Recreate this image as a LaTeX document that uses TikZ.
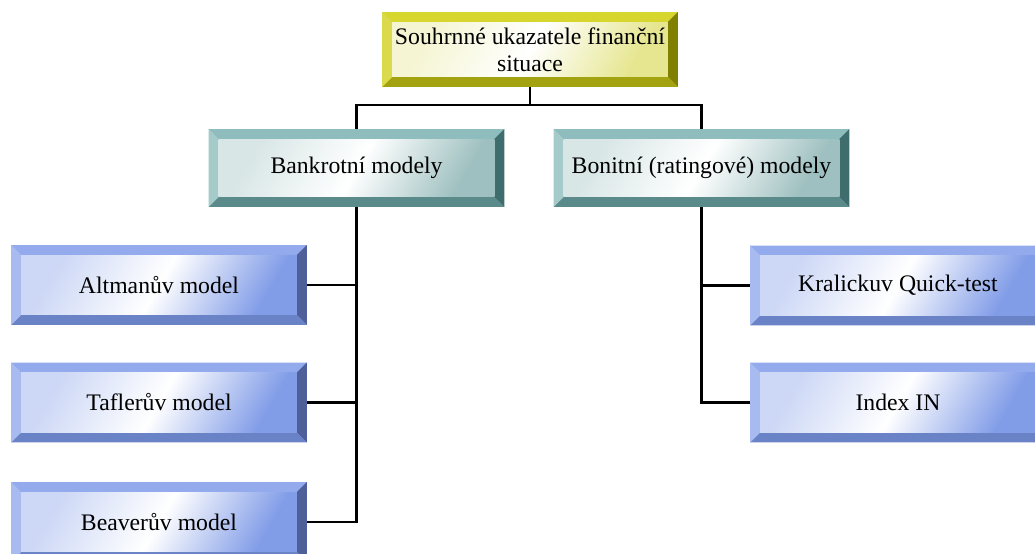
\documentclass[tikz,border=0pt]{standalone}
\usepackage{fontspec}
\setmainfont{Liberation Serif}
\usetikzlibrary{calc}

\definecolor{blueTop}{HTML}{93AAEC}
\definecolor{blueLeft}{HTML}{A8BBF0}
\definecolor{blueRight}{HTML}{4E5F99}
\definecolor{blueBot}{HTML}{6A83C6}
\definecolor{blueIn}{HTML}{829DE8}
\definecolor{tealTop}{HTML}{8FBCBC}
\definecolor{tealLeft}{HTML}{A5CACA}
\definecolor{tealRight}{HTML}{3F6C6C}
\definecolor{tealBot}{HTML}{5B8A8A}
\definecolor{tealIn}{HTML}{9FC0C0}
\definecolor{yelTop}{HTML}{D6D62E}
\definecolor{yelLeft}{HTML}{DADA4C}
\definecolor{yelRight}{HTML}{808000}
\definecolor{yelBot}{HTML}{A3A312}
\definecolor{yelIn}{HTML}{E6E690}

\newcommand{\bw}{0.2cm}

\tikzset{
  bevel/.style n args={5}{fill=#1, inner sep=0pt, align=center, minimum width=5.92cm,
    font=\fontsize{13.5}{15.5}\selectfont,
    path picture={
      \path (path picture bounding box.north west) coordinate (pnw)
            (path picture bounding box.south east) coordinate (pse)
            (pnw -| pse) coordinate (pne)
            (pnw |- pse) coordinate (psw);
      \fill[#1] (pnw) -- (pne) -- ([shift={(-\bw,-\bw)}]pne) -- ([shift={(\bw,-\bw)}]pnw) -- cycle;
      \fill[#3] (pne) -- (pse) -- ([shift={(-\bw,\bw)}]pse) -- ([shift={(-\bw,-\bw)}]pne) -- cycle;
      \fill[#4] (pse) -- (psw) -- ([shift={(\bw,\bw)}]psw) -- ([shift={(-\bw,\bw)}]pse) -- cycle;
      \fill[#2] (psw) -- (pnw) -- ([shift={(\bw,-\bw)}]pnw) -- ([shift={(\bw,\bw)}]psw) -- cycle;
      \shade[left color=#5!40, right color=#5, middle color=white, shading angle=60]
        ([shift={(\bw,-\bw)}]pnw) rectangle ([shift={(-\bw,\bw)}]pse);
    }},
  bluebox/.style={bevel={blueTop}{blueLeft}{blueRight}{blueBot}{blueIn}, minimum height=1.6cm},
  tealbox/.style={bevel={tealTop}{tealLeft}{tealRight}{tealBot}{tealIn}, minimum height=1.56cm},
  yelbox/.style={bevel={yelTop}{yelLeft}{yelRight}{yelBot}{yelIn}, minimum height=1.5cm},
  conn/.style={line width=1.3pt}
}

\begin{document}
\begin{tikzpicture}[x=0.02cm, y=-0.02cm]
  \useasboundingbox (0,0) rectangle (1035,554);

  % top level
  \node[yelbox] (souhrn) at (530,49.5) {Souhrnné ukazatele finanční\\situace};

  % two groups
  \node[tealbox] (bankrot) at (356.5,168) {Bankrotní modely};
  \node[tealbox] (bonit) at (701.5,168) {Bonitní (ratingové) modely};

  % left column
  \node[bluebox] (altman) at (159,285) {Altmanův model};
  \node[bluebox] (tafler) at (159,402.5) {Taflerův model};
  \node[bluebox] (beaver) at (159,522) {Beaverův model};

  % right column
  \node[bluebox] (kralic) at (898,285.5) {Kralickuv Quick-test};
  \node[bluebox] (indexin) at (898,402.5) {Index IN};

  % connectors
  \draw[conn] (souhrn.south) -- ++(0,18) -| (bankrot.north);
  \draw[conn] (souhrn.south) -- ++(0,18) -| (bonit.north);
  \draw[conn] (bankrot.south) |- (altman.east);
  \draw[conn] (bankrot.south) |- (tafler.east);
  \draw[conn] (bankrot.south) |- (beaver.east);
  \draw[conn] (bonit.south) |- (kralic.west);
  \draw[conn] (bonit.south) |- (indexin.west);
\end{tikzpicture}
\end{document}
